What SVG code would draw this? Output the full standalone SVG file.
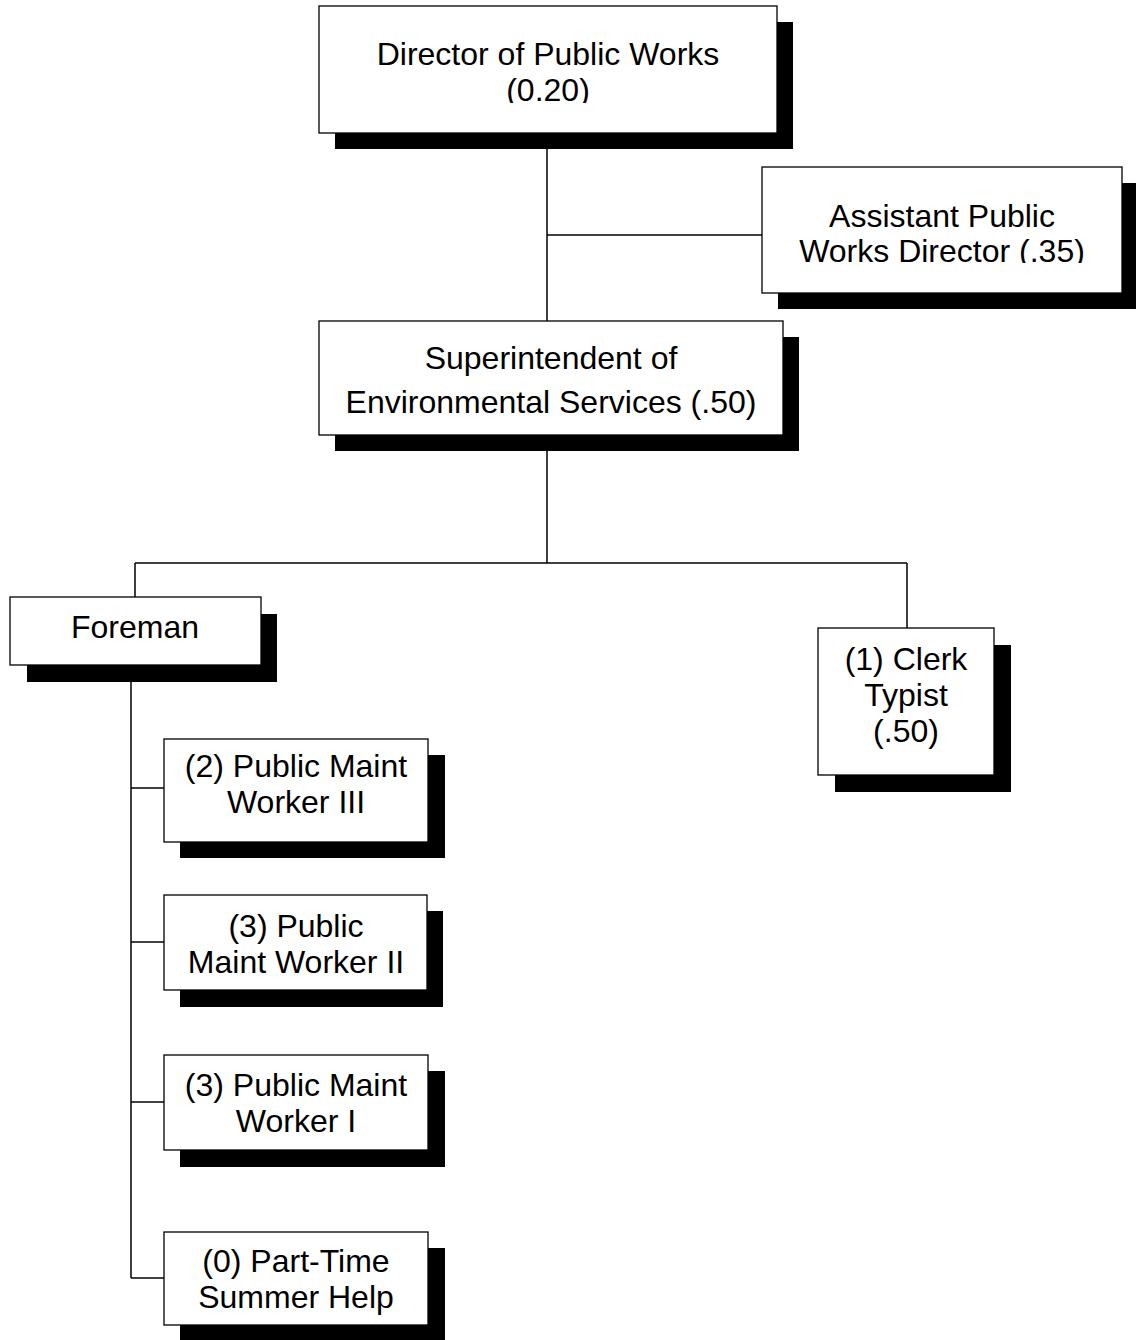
<svg xmlns="http://www.w3.org/2000/svg" width="1136" height="1340" viewBox="0 0 1136 1340">
  <style>
    .shadow { fill: #000; }
    .box { fill: #fff; stroke: #000; stroke-width: 1.3; }
    .label { font-family: "Liberation Sans", Arial, sans-serif; font-size: 32px; fill: #000; text-anchor: middle; }
    .wire { stroke: #000; stroke-width: 1.5; fill: none; }
  </style>
  <defs>
    <!-- text areas of the two top boxes cut off their overflowing last line -->
    <clipPath id="clip-director"><rect x="319" y="6" width="458" height="97"/></clipPath>
    <clipPath id="clip-assistant"><rect x="762" y="167" width="360" height="96"/></clipPath>
  </defs>
  <rect width="1136" height="1340" fill="#fff"/>

  <g id="connectors">
    <line class="wire" x1="547" y1="149" x2="547" y2="322"/>
    <line class="wire" x1="547" y1="235" x2="762" y2="235"/>
    <line class="wire" x1="547" y1="450" x2="547" y2="563"/>
    <line class="wire" x1="135" y1="563" x2="907" y2="563"/>
    <line class="wire" x1="135" y1="563" x2="135" y2="597"/>
    <line class="wire" x1="907" y1="563" x2="907" y2="628"/>
    <line class="wire" x1="131" y1="682" x2="131" y2="1278"/>
    <line class="wire" x1="131" y1="788" x2="164" y2="788"/>
    <line class="wire" x1="131" y1="942" x2="164" y2="942"/>
    <line class="wire" x1="131" y1="1102" x2="164" y2="1102"/>
    <line class="wire" x1="131" y1="1278" x2="164" y2="1278"/>
  </g>

  <g id="director">
    <rect class="shadow" x="335" y="22" width="458" height="127"/>
    <rect class="box" x="319" y="6" width="458" height="127"/>
    <g clip-path="url(#clip-director)">
      <text class="label" x="548" y="65">Director of Public Works</text>
      <text class="label" x="548" y="101">(0.20)</text>
    </g>
  </g>

  <g id="assistant">
    <rect class="shadow" x="778" y="183" width="360" height="126"/>
    <rect class="box" x="762" y="167" width="360" height="126"/>
    <g clip-path="url(#clip-assistant)">
      <text class="label" x="942" y="227">Assistant Public</text>
      <text class="label" x="942" y="262">Works Director (.35)</text>
    </g>
  </g>

  <g id="superintendent">
    <rect class="shadow" x="335" y="337" width="464" height="114"/>
    <rect class="box" x="319" y="321" width="464" height="114"/>
    <text class="label" x="551" y="369">Superintendent of</text>
    <text class="label" x="551" y="413">Environmental Services (.50)</text>
  </g>

  <g id="foreman">
    <rect class="shadow" x="27" y="614" width="250" height="68"/>
    <rect class="box" x="10" y="597" width="251" height="68"/>
    <text class="label" x="135" y="638">Foreman</text>
  </g>

  <g id="clerk-typist">
    <rect class="shadow" x="835" y="645" width="176" height="147"/>
    <rect class="box" x="818" y="628" width="176" height="147"/>
    <text class="label" x="906" y="670">(1) Clerk</text>
    <text class="label" x="906" y="706">Typist</text>
    <text class="label" x="906" y="742">(.50)</text>
  </g>

  <g id="maint-worker-3">
    <rect class="shadow" x="180" y="755" width="265" height="103"/>
    <rect class="box" x="164" y="739" width="264" height="103"/>
    <text class="label" x="296" y="777">(2) Public Maint</text>
    <text class="label" x="296" y="813">Worker III</text>
  </g>

  <g id="maint-worker-2">
    <rect class="shadow" x="180" y="911" width="263" height="96"/>
    <rect class="box" x="164" y="895" width="263" height="95"/>
    <text class="label" x="296" y="937">(3) Public</text>
    <text class="label" x="296" y="973">Maint Worker II</text>
  </g>

  <g id="maint-worker-1">
    <rect class="shadow" x="180" y="1071" width="265" height="96"/>
    <rect class="box" x="164" y="1055" width="264" height="95"/>
    <text class="label" x="296" y="1096">(3) Public Maint</text>
    <text class="label" x="296" y="1132">Worker I</text>
  </g>

  <g id="part-time-help">
    <rect class="shadow" x="180" y="1248" width="265" height="95"/>
    <rect class="box" x="164" y="1232" width="264" height="93"/>
    <text class="label" x="296" y="1272">(0) Part-Time</text>
    <text class="label" x="296" y="1308">Summer Help</text>
  </g>
</svg>
